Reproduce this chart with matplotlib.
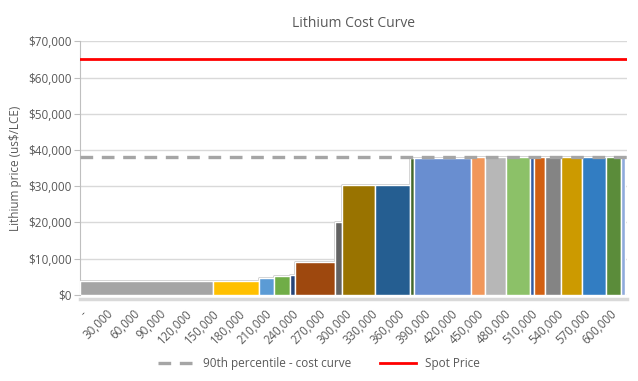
import numpy as np
import matplotlib.pyplot as plt

# ==== data ====
# capacity of each producer (t LCE) and its cost (us$/LCE), in cost order
capacity = [150000, 53000, 16000, 19000, 5000, 45000, 8500, 37500, 39000, 5000,
            65000, 15000, 24000, 27000, 5000, 12500, 18000, 24000, 27000, 16500, 5000]
cost = [3900, 3800, 4700, 5200, 5500, 8900, 20000, 30400, 30400, 37700,
        37900, 38000, 38000, 38100, 38100, 38000, 38100, 38000, 38000, 38000, 38100]
bar_colors = ['#a5a5a5', '#ffc000', '#5b9bd5', '#70ad47', '#264478', '#9e480e',
              '#636363', '#997300', '#255e91', '#43682b', '#698ed0', '#f1975a',
              '#b7b7b7', '#8cc168', '#335aa1', '#d26012', '#848484', '#cc9a00',
              '#327dc2', '#5b8c3a', '#8faadc']

p90_cost = 38000
spot_price = 65000

x_ticks = list(range(0, 600001, 30000))
x_labels = ['-'] + [f'{v:,}' for v in x_ticks[1:]]
y_ticks = list(range(0, 70001, 10000))

txt = '#595959'
plt.rcParams['font.family'] = ['Open Sans', 'DejaVu Sans']

fig = plt.figure(figsize=(6.38, 3.81), dpi=100)
ax = fig.add_axes([0.1254, 0.2265, 0.8574, 0.665])

left = np.concatenate([[0], np.cumsum(capacity)[:-1]])

# step outline behind the bars
edges = np.append(left, left[-1] + capacity[-1])
ax.step(edges, np.append(cost, cost[-1]), where='post', color='#c8c8c8', lw=2.0, zorder=2)

ax.bar(left, cost, width=capacity, align='edge', color=bar_colors,
       edgecolor='white', linewidth=1.0, zorder=3)

ax.axhline(p90_cost, color='#a5a5a5', lw=2.4, ls=(0, (3.8, 2.6)), zorder=4,
           label='90th percentile - cost curve')
ax.axhline(spot_price, color='#ff0000', lw=2.0, zorder=4, label='Spot Price')

ax.set_xlim(0, 619000)
ax.set_ylim(0, 70000)
ax.set_yticks(y_ticks)
ax.set_yticklabels([f'${v:,}' for v in y_ticks])
ax.set_xticks(x_ticks)
ax.set_xticklabels(x_labels)
ax.grid(axis='y', color='#d9d9d9', lw=1.0, zorder=0)
ax.set_axisbelow(True)

for s in ['top', 'right']:
    ax.spines[s].set_visible(False)
ax.spines['left'].set_color('#bfbfbf')
ax.spines['bottom'].set_color('#d9d9d9')
ax.spines['bottom'].set_linewidth(2.5)
ax.spines['bottom'].set_position(('outward', 3))
ax.tick_params(axis='y', colors='#bfbfbf', labelcolor=txt, labelsize=8.5, length=4, pad=2)
ax.tick_params(axis='x', length=0, labelcolor=txt, labelsize=8.3, pad=6, labelrotation=45)
for lab in ax.get_xticklabels():
    lab.set_horizontalalignment('right')
    lab.set_verticalalignment('top')
    lab.set_rotation_mode('anchor')

ax.set_ylabel('Lithium price (us$/LCE)', color=txt, fontsize=8.5, labelpad=4)
ax.set_title('Lithium Cost Curve', color=txt, fontsize=10, pad=10)

fig.legend(loc='lower center', bbox_to_anchor=(0.5, 0.0), ncol=2, frameon=False,
           fontsize=8.5, labelcolor=txt, handlelength=3, columnspacing=2.5)

fig.savefig('out.png', dpi=100)
